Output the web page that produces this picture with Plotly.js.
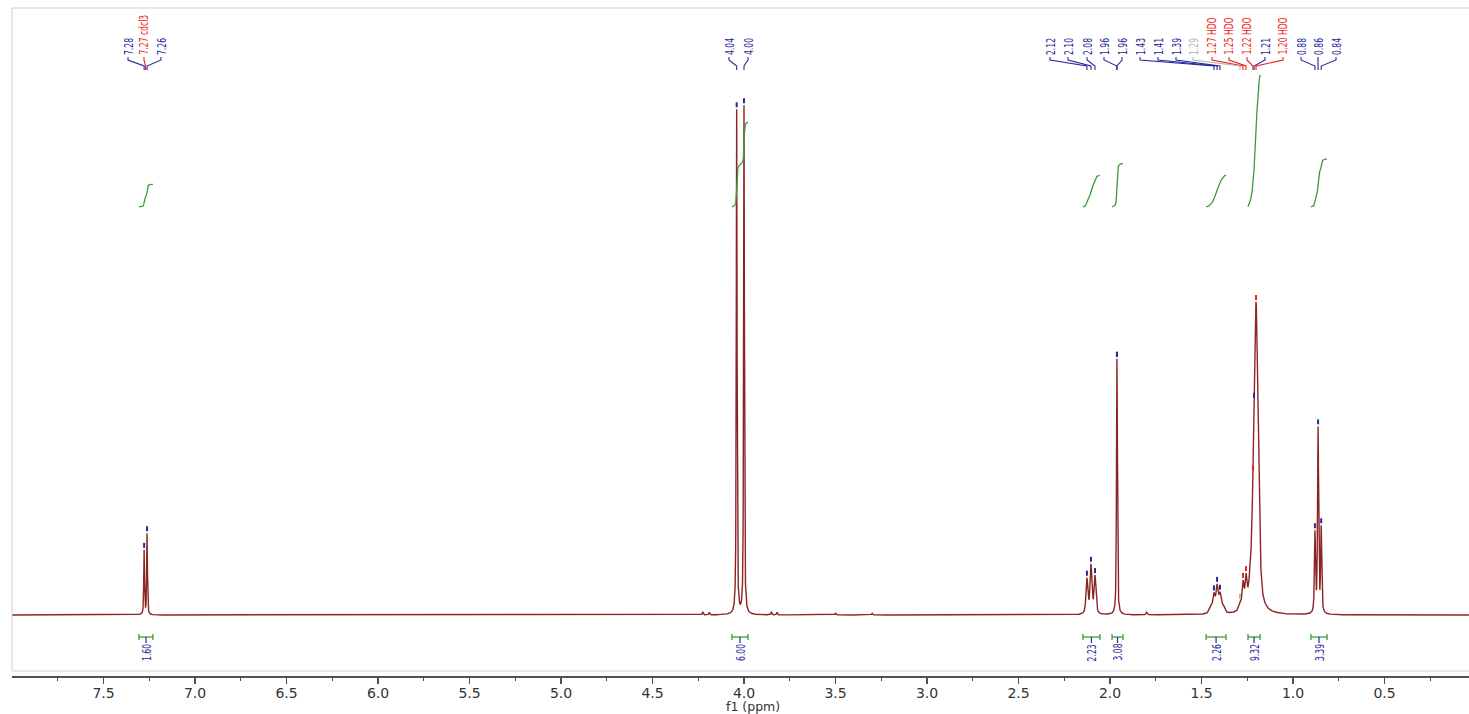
<!DOCTYPE html>
<html><head><meta charset="utf-8">
<script src="https://cdn.plot.ly/plotly-3.0.1.min.js"></script>
<style>html,body{margin:0;padding:0;background:#fff;}#chart{width:1469px;height:714px;}</style>
</head><body><div id="chart"></div>
<script>
// ---- spectral lines (ppm, height relative to tallest, half width ppm, lorentz fraction)
const linePpm    = [7.278, 7.262, 4.225, 4.190, 4.040, 4.000, 3.850, 3.820, 3.500, 3.300, 2.126, 2.104, 2.082, 1.962, 1.800, 1.450, 1.432, 1.415, 1.399, 1.382, 1.290, 1.273, 1.257, 1.236, 1.218, 1.202, 0.880, 0.863, 0.846];
const lineHeight = [0.125, 0.158, 0.006, 0.005, 0.985, 0.993, 0.006, 0.005, 0.004, 0.003, 0.068, 0.094, 0.073, 0.500, 0.005, 0.015, 0.035, 0.052, 0.035, 0.014, 0.015, 0.050, 0.055, 0.025, 0.045, 0.595, 0.155, 0.360, 0.165];
const lineWidth  = [0.0025,0.0025,0.003,0.003,0.0025,0.0025,0.003,0.003,0.003,0.003,0.006,0.006,0.006,0.003,0.004,0.010,0.007,0.007,0.007,0.010,0.008,0.006,0.006,0.010,0.012,0.014,0.0035,0.0035,0.0035];
const lineEta    = [0.6,0.6,0.5,0.5,0.7,0.7,0.5,0.5,0.5,0.5,0.6,0.6,0.6,0.6,0.5,0.5,0.5,0.5,0.5,0.5,0.5,0.5,0.5,0.5,0.5,0.5,0.6,0.6,0.6];

// ---- peak picking labels
const peakText   = ["7.28","7.27 cdcl3","7.26","4.04","4.00","2.12","2.10","2.08","1.96","1.96","1.43","1.41","1.39","1.29","1.27 HDO","1.25 HDO","1.22 HDO","1.21","1.20 HDO","0.88","0.86","0.84"];
const peakPpm    = [7.278, 7.270, 7.262, 4.040, 4.000, 2.126, 2.104, 2.082, 1.962, 1.962, 1.432, 1.415, 1.399, 1.290, 1.273, 1.257, 1.219, 1.213, 1.202, 0.880, 0.863, 0.846];
const peakKind   = ["n","s","n","n","n","n","n","n","n","n","n","n","n","g","s","s","s","n","s","n","n","n"];

// ---- integrals
const intFrom  = [7.306, 4.066, 2.148, 1.989, 1.475, 1.246, 0.902];
const intTo    = [7.230, 3.978, 2.055, 1.929, 1.366, 1.180, 0.814];
const intValue = [1.60, 6.00, 2.23, 3.08, 2.26, 9.32, 3.39];

// ---- axis ticks
const tickVals  = [7.5,7.0,6.5,6.0,5.5,5.0,4.5,4.0,3.5,3.0,2.5,2.0,1.5,1.0,0.5];
const minorVals = [7.75,7.25,6.75,6.25,5.75,5.25,4.75,4.25,3.75,3.25,2.75,2.25,1.75,1.25,0.75,0.25];

// ---- layout geometry (pixels)
const W=1469,H=714, ML=12, MT=8, MB=38, PXPERPPM=183, XMAX=8.0, BASEPX=615, PXPERUNIT=512;
const plotBottom = H-MB;
const pxToPpm = px => XMAX-(px-ML)/PXPERPPM;
const pxToY = py => (BASEPX-py)/PXPERUNIT;
const labelSlotPx = [128,144,161,729,748,1050,1068,1087,1104,1122,1140,1158,1176,1193,1212,1229,1247,1265,1283,1301,1318,1336];

const colors = {n:'#27289a', s:'#f01e1e', g:'#b4b4b4'};
const green = '#3c9a3c';
const specColor = '#8c2424';
const labelFont = "'Liberation Sans Narrow','DejaVu Sans Condensed','Arial Narrow',sans-serif";
const labelSize = 13;

function shape(d,w,eta){const r=(d/w)*(d/w);return eta/(1+r)+(1-eta)*Math.exp(-Math.LN2*r);}
function spectrum(p){let s=0;for(let i=0;i<linePpm.length;i++){s+=lineHeight[i]*shape(p-linePpm[i],lineWidth[i],lineEta[i]);}return s;}

const xmin = pxToPpm(W);
const sx=[], sy=[];
for(let p=XMAX;p>=xmin;p-=0.0005){sx.push(p);sy.push(spectrum(p));}

const traces=[];
traces.push({x:sx,y:sy,type:'scatter',mode:'lines',line:{color:specColor,width:1.4},hoverinfo:'skip'});

// integral curves and brackets
const intScale = 14.17/PXPERUNIT, intBase = pxToY(207);
const annotations=[], annMode=[];
const brX=[],brY=[],tickX=[],tickY=[];
for(let k=0;k<intFrom.length;k++){
  const cx=[],cum=[];let c=0;
  for(let p=intFrom[k];p>=intTo[k];p-=0.0005){c+=spectrum(p);cx.push(p);cum.push(c);}
  const cy=cum.map(v=>intBase+intValue[k]*intScale*v/c);
  traces.push({x:cx,y:cy,type:'scatter',mode:'lines',line:{color:green,width:1.3},hoverinfo:'skip'});
  const yb=pxToY(637), yc1=pxToY(634), yc2=pxToY(640);
  brX.push(intFrom[k],intTo[k],null,intFrom[k],intFrom[k],null,intTo[k],intTo[k],null);
  brY.push(yb,yb,null,yc1,yc2,null,yc1,yc2,null);
  const mid=(intFrom[k]+intTo[k])/2;
  tickX.push(mid,mid,null); tickY.push(yb,pxToY(643),null);
  annotations.push({x:mid,y:pxToY(643),xref:'x',yref:'y',text:intValue[k].toFixed(2),showarrow:false,textangle:-90,xanchor:'center',yanchor:'top',font:{family:labelFont,size:labelSize,color:colors.n},borderpad:0});
  annMode.push('end');
}
traces.push({x:brX,y:brY,type:'scatter',mode:'lines',line:{color:green,width:1.3},hoverinfo:'skip'});
traces.push({x:tickX,y:tickY,type:'scatter',mode:'lines',line:{color:colors.n,width:1.2},hoverinfo:'skip'});

// peak labels, connectors, markers
const conn={n:{x:[],y:[]},s:{x:[],y:[]},g:{x:[],y:[]}};
const mark={n:{x:[],y:[]},s:{x:[],y:[]},g:{x:[],y:[]}};
for(let i=0;i<peakText.length;i++){
  const k=peakKind[i], lx=pxToPpm(labelSlotPx[i]), tx=peakPpm[i];
  conn[k].x.push(lx,lx,tx,tx,null); conn[k].y.push(pxToY(57),pxToY(60),pxToY(66),pxToY(70),null);
  if(i!==1){const top=spectrum(tx); mark[k].x.push(tx,tx,null); mark[k].y.push(top+2/PXPERUNIT,top+7/PXPERUNIT,null);}
  annotations.push({x:lx,y:pxToY(56),xref:'x',yref:'y',text:peakText[i],showarrow:false,textangle:-90,xanchor:'center',yanchor:'bottom',font:{family:labelFont,size:labelSize,color:colors[k]},borderpad:0});
  annMode.push('start');
}
for(const k of ['n','s','g']){
  traces.push({x:conn[k].x,y:conn[k].y,type:'scatter',mode:'lines',line:{color:colors[k],width:1.1},hoverinfo:'skip'});
  traces.push({x:mark[k].x,y:mark[k].y,type:'scatter',mode:'lines',line:{color:colors[k],width:2},hoverinfo:'skip'});
}

annotations.push({x:pxToPpm(753),y:-(706-plotBottom)/(plotBottom-MT),xref:'x',yref:'paper',text:'f1 (ppm)',showarrow:false,xanchor:'center',yanchor:'middle',font:{family:'DejaVu Sans',size:12.5,color:'#333'}});
annMode.push(null);

const fb=(plotBottom-671)/(plotBottom-MT);
const layout={
  width:W,height:H,margin:{l:ML,r:0,t:MT,b:MB},paper_bgcolor:'#fff',plot_bgcolor:'#fff',showlegend:false,
  xaxis:{range:[XMAX,xmin],autorange:false,showgrid:false,zeroline:false,showline:true,linecolor:'#505050',linewidth:1.5,
    ticks:'outside',ticklen:6,tickwidth:1.3,tickcolor:'#505050',tickmode:'array',tickvals:tickVals,ticktext:tickVals.map(v=>v.toFixed(1)),
    ticklabelstandoff:-2,
    minor:{tickmode:'array',tickvals:minorVals,ticks:'outside',ticklen:3,tickwidth:1.3,tickcolor:'#505050'},
    tickfont:{family:'DejaVu Sans',size:14,color:'#333'},fixedrange:true},
  yaxis:{range:[pxToY(plotBottom),pxToY(MT)],autorange:false,visible:false,fixedrange:true},
  shapes:[{type:'path',xref:'paper',yref:'paper',path:`M 1.01 1 L 0 1 L 0 ${fb} L 1.01 ${fb}`,line:{color:'#cfcfcf',width:1}}],
  annotations:annotations
};
Plotly.newPlot('chart',traces,layout,{displayModeBar:false,staticPlot:true}).then(gd=>{
  // condense the rotated label texts to the narrow look of the original
  const ctx=document.createElement('canvas').getContext('2d');
  ctx.font=labelSize+'px '+labelFont;
  const sc=Math.min(1,17/ctx.measureText('2.12').width);
  gd.querySelectorAll('g.annotation').forEach(g=>{
    const idx=+g.getAttribute('data-index');
    const mode=annMode[idx]; if(!mode) return;
    const t=g.querySelector('text.annotation-text'); if(!t) return;
    const bb=t.getBBox();
    const px= mode==='start'? bb.x : bb.x+bb.width;
    t.setAttribute('transform',`translate(${px},0) scale(${sc},1) translate(${-px},0)`);
  });
});
</script></body></html>
